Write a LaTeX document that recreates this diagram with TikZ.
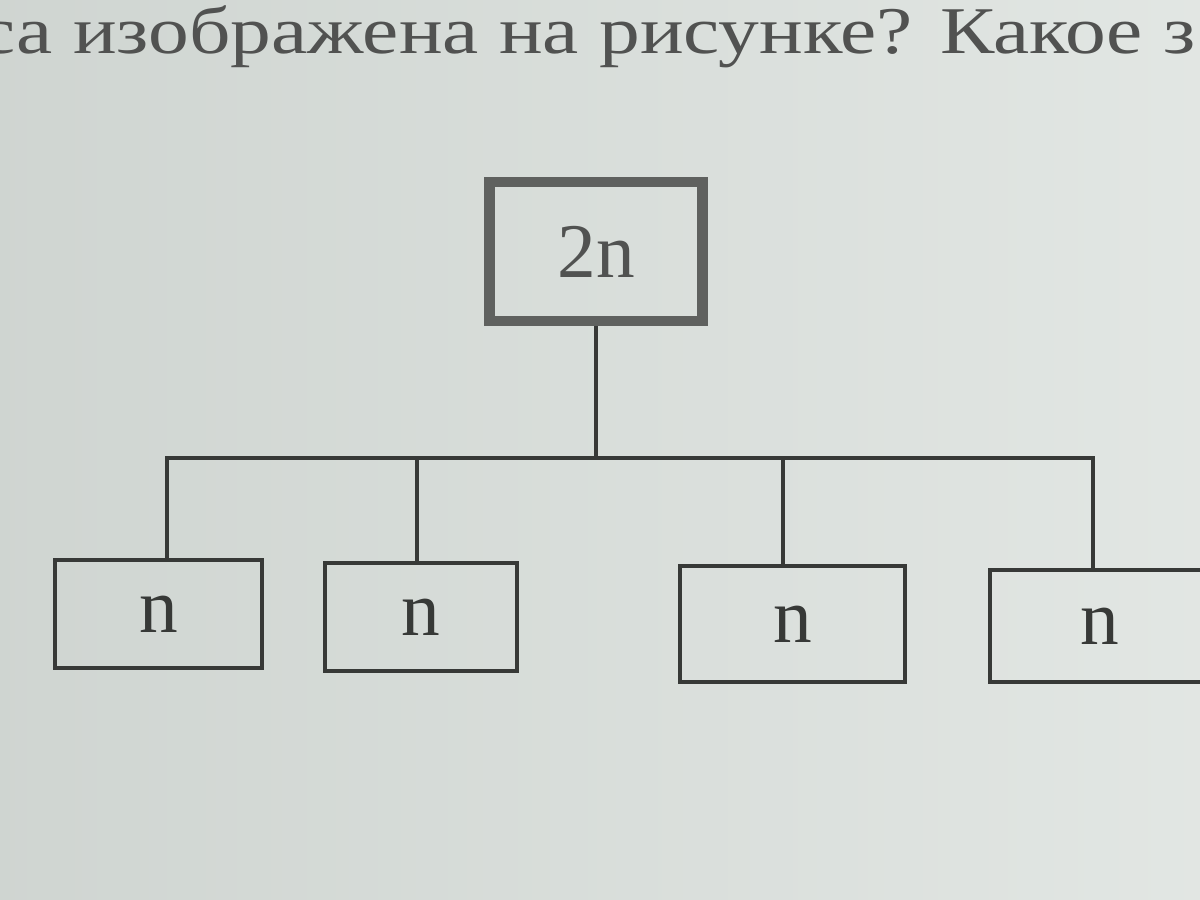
\documentclass[tikz,border=0pt]{standalone}
\usepackage{fontspec}
\setmainfont{Liberation Serif}
\usetikzlibrary{positioning}
\definecolor{paper}{RGB}{216,222,218}
\definecolor{ink}{RGB}{55,57,55}
\definecolor{greyink}{RGB}{95,97,95}

\begin{document}
\begin{tikzpicture}[line width=0.9pt,
  box/.style={rectangle,draw=ink,inner sep=0pt,text=ink,
    font=\fontsize{22}{22}\selectfont},
  root box/.style={box,draw=greyink,line width=2.9pt,text=greyink!85!black}]

  \clip (0,0) rectangle (12,-9);
  \shade[left color=paper!96!black, right color=paper!75!white] (0,0) rectangle (12,-9);

  % line of the question above the figure, cut at the page edges
  \node[anchor=base west,inner sep=0pt,text=greyink!85!black,
    font=\fontsize{19}{19}\selectfont] (q) at (-0.22,-0.53)
    {\scalebox{1.22}[1]{са изображена на рисунке? Какое з}};

  \node[root box,minimum width=2.13cm,minimum height=1.39cm] (0) at (5.96,-2.515) {2n};

  \node[box,minimum width=2.07cm,minimum height=1.08cm] (1) at (1.585,-6.14) {n};
  \node[box,minimum width=1.92cm,minimum height=1.08cm] (2) at (4.21,-6.17) {n};
  \node[box,minimum width=2.25cm,minimum height=1.16cm] (3) at (7.925,-6.24) {n};
  \node[box,minimum width=2.2cm,minimum height=1.12cm] (4) at (11.0,-6.26) {n};

  \coordinate (bus) at (5.96,-4.58);

  \draw[ink] (0.south) -- (bus);
  \draw[ink] ([xshift=0.085cm]1.north) |- (bus);
  \draw[ink] ([xshift=-0.04cm]2.north) |- (bus);
  \draw[ink] ([xshift=-0.095cm]3.north) |- (bus);
  \draw[ink] ([xshift=-0.07cm]4.north) |- (bus);

\end{tikzpicture}
\end{document}
